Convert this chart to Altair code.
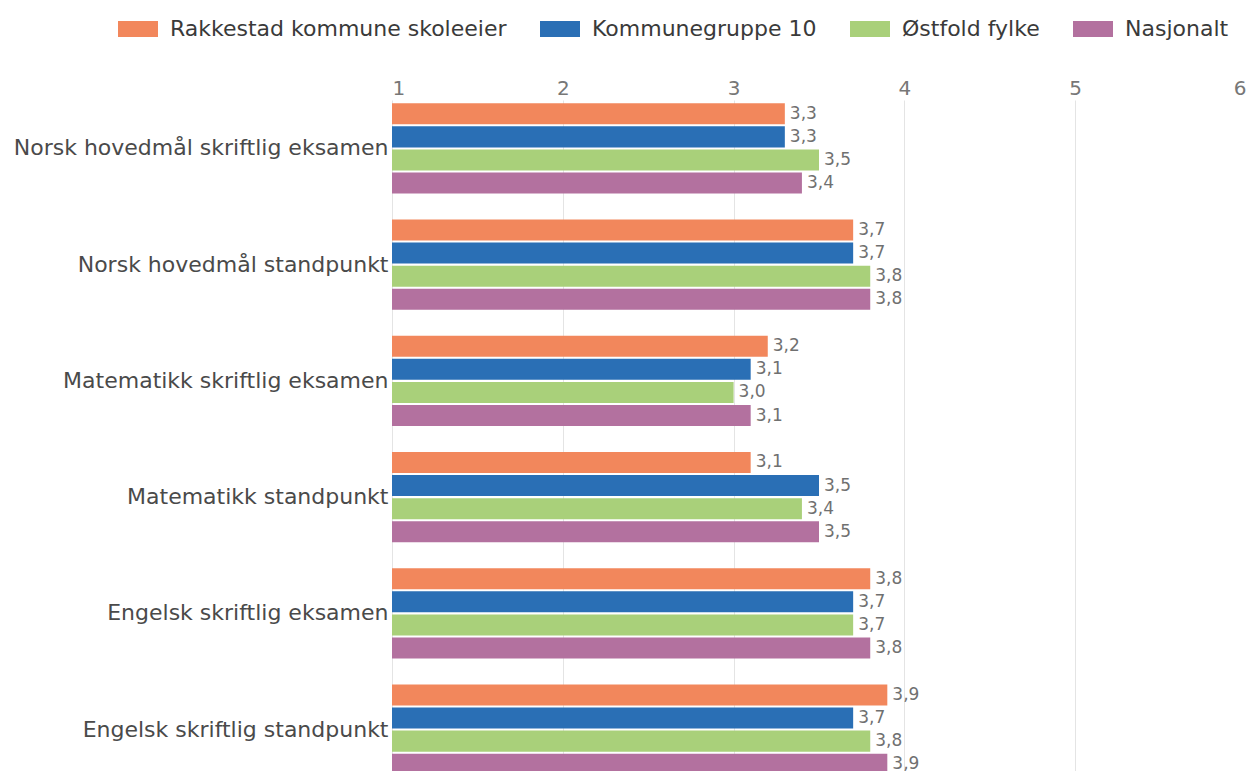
import altair as alt
import pandas as pd

categories = [
    "Norsk hovedmål skriftlig eksamen",
    "Norsk hovedmål standpunkt",
    "Matematikk skriftlig eksamen",
    "Matematikk standpunkt",
    "Engelsk skriftlig eksamen",
    "Engelsk skriftlig standpunkt",
]
series = ["Rakkestad kommune skoleeier", "Kommunegruppe 10", "Østfold fylke", "Nasjonalt"]
colors = ["#f2875c", "#2a6fb5", "#a9d07a", "#b3719f"]

rakkestad = [3.3, 3.7, 3.2, 3.1, 3.8, 3.9]
kommunegruppe = [3.3, 3.7, 3.1, 3.5, 3.7, 3.7]
ostfold = [3.5, 3.8, 3.0, 3.4, 3.7, 3.8]
nasjonalt = [3.4, 3.8, 3.1, 3.5, 3.8, 3.9]
values = [rakkestad, kommunegruppe, ostfold, nasjonalt]
x_ticks = [1, 2, 3, 4, 5, 6]

rows = []
for s, vals in zip(series, values):
    for c, v in zip(categories, vals):
        rows.append({"kategori": c, "serie": s, "verdi": v,
                     "label": f"{v:.1f}".replace(".", ",")})
df = pd.DataFrame(rows)

FONT = "DejaVu Sans"

y_enc = alt.Y("kategori:N", sort=categories,
              scale=alt.Scale(range=[0, 678], paddingInner=0.2069, paddingOuter=0.02),
              axis=alt.Axis(title=None, labelFontSize=22, labelColor="#4a4a4a", labelFont=FONT,
                            ticks=False, domain=False, labelPadding=4, labelLimit=0))
yoff = alt.YOffset("serie:N", sort=series,
                   scale=alt.Scale(paddingInner=0.09, paddingOuter=0.04))

bars = alt.Chart(df).mark_bar().encode(
    x=alt.X("verdi:Q", scale=alt.Scale(domain=[1, 6], nice=False, zero=False),
            axis=alt.Axis(orient="top", values=x_ticks, title=None, labelFontSize=20,
                          labelColor="#777777", labelFont=FONT, ticks=False, domain=False,
                          grid=True, gridColor="#e4e4e4", labelPadding=2, format="d",
                          labelFlush=True)),
    x2=alt.datum(1),
    y=y_enc,
    yOffset=yoff,
    color=alt.Color("serie:N", sort=series,
                    scale=alt.Scale(domain=series, range=colors),
                    legend=alt.Legend(title=None, orient="none", legendX=-274, legendY=-91,
                                      direction="horizontal", columns=4,
                                      symbolType="M-1,-0.4L1,-0.4L1,0.4L-1,0.4Z",
                                      symbolSize=1600, symbolStrokeWidth=0,
                                      labelFontSize=22, labelColor="#3a3a3a", labelFont=FONT,
                                      labelOffset=12, columnPadding=33, labelLimit=0)),
)

labels = alt.Chart(df).mark_text(align="left", baseline="middle", dx=5, fontSize=17,
                                 color="#707070", font=FONT).encode(
    x=alt.X("verdi:Q"),
    y=alt.Y("kategori:N", sort=categories),
    yOffset=alt.YOffset("serie:N", sort=series),
    text="label:N",
)

chart = (bars + labels).properties(
    width=854, height=671,
    autosize=alt.AutoSizeParams(type="none"),
    padding={"left": 384, "top": 92, "right": 0, "bottom": 0},
    background="white",
).configure_view(stroke=None)

chart.save("out.html", embed_options={"renderer": "svg", "actions": False})
